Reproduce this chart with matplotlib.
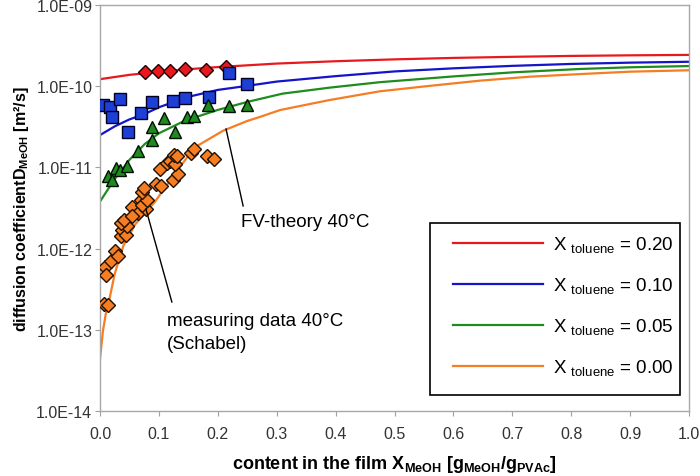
import matplotlib
matplotlib.use("Agg")
import matplotlib.pyplot as plt
from matplotlib.patches import Rectangle

plt.rcParams["font.family"] = ["Liberation Sans", "DejaVu Sans"]
plt.rcParams["mathtext.fontset"] = "custom"
plt.rcParams["mathtext.rm"] = "Liberation Sans"
plt.rcParams["mathtext.bf"] = "Liberation Sans:bold"

# FV-theory curves
x_red = [0.0, 0.05, 0.1, 0.15, 0.2, 0.3, 0.4, 0.5, 0.6, 0.7, 0.8, 0.9, 1.0]
d_red = [1.22e-10, 1.38e-10, 1.50e-10, 1.62e-10, 1.72e-10, 1.90e-10, 2.03e-10,
         2.14e-10, 2.23e-10, 2.30e-10, 2.36e-10, 2.40e-10, 2.43e-10]

x_blue = [0.0, 0.025, 0.05, 0.076, 0.1, 0.15, 0.2, 0.25, 0.3, 0.4, 0.5, 0.6, 0.7, 0.8, 0.9, 1.0]
d_blue = [2.5e-11, 3.2e-11, 3.9e-11, 4.55e-11, 5.5e-11, 7.4e-11, 9.0e-11, 1.01e-10, 1.14e-10,
          1.33e-10, 1.52e-10, 1.66e-10, 1.78e-10, 1.88e-10, 1.95e-10, 2.0e-10]

x_green = [0.0, 0.025, 0.05, 0.076, 0.1, 0.144, 0.2, 0.25, 0.31, 0.39, 0.475, 0.6, 0.7, 0.815, 0.9, 1.0]
d_green = [3.8e-12, 7.2e-12, 1.24e-11, 1.94e-11, 2.63e-11, 3.76e-11, 5.1e-11, 6.4e-11, 8.1e-11,
           9.6e-11, 1.12e-10, 1.32e-10, 1.48e-10, 1.63e-10, 1.71e-10, 1.77e-10]

x_orange = [0.0, 0.005, 0.01, 0.015, 0.025, 0.04, 0.06, 0.093, 0.127, 0.16, 0.209, 0.25, 0.266,
            0.306, 0.39, 0.475, 0.56, 0.645, 0.73, 0.815, 0.9, 1.0]
d_orange = [4.4e-14, 9.7e-14, 1.6e-13, 2.2e-13, 4.9e-13, 1.1e-12, 2.0e-12, 3.75e-12, 8.3e-12,
            1.75e-11, 2.83e-11, 3.73e-11, 4.06e-11, 5.09e-11, 6.76e-11, 8.65e-11, 1.01e-10,
            1.17e-10, 1.31e-10, 1.41e-10, 1.51e-10, 1.57e-10]

# measuring data 40 C (Schabel)
x_red_pts = [0.076, 0.099, 0.119, 0.144, 0.180, 0.214]
d_red_pts = [1.48e-10, 1.55e-10, 1.52e-10, 1.61e-10, 1.60e-10, 1.71e-10]

x_blue_pts = [0.0056, 0.017, 0.0212, 0.034, 0.048, 0.069, 0.088, 0.124, 0.144, 0.185, 0.219, 0.249]
d_blue_pts = [5.92e-11, 5.50e-11, 4.12e-11, 6.96e-11, 2.73e-11, 4.68e-11, 6.30e-11, 6.57e-11,
              7.16e-11, 7.30e-11, 1.47e-10, 1.05e-10]

x_green_pts = [0.014, 0.020, 0.028, 0.034, 0.045, 0.064, 0.088, 0.088, 0.108, 0.128, 0.148,
               0.159, 0.184, 0.219, 0.249]
d_green_pts = [7.84e-12, 6.90e-12, 9.7e-12, 9.29e-12, 1.05e-11, 1.61e-11, 2.17e-11, 3.15e-11,
               4.11e-11, 2.71e-11, 4.23e-11, 4.26e-11, 5.87e-11, 5.70e-11, 5.82e-11]

x_orange_pts = [0.006, 0.014, 0.008, 0.011, 0.019, 0.025, 0.030, 0.035, 0.037, 0.044, 0.045,
                0.036, 0.041, 0.055, 0.064, 0.054, 0.078, 0.070, 0.071, 0.080, 0.072, 0.074,
                0.095, 0.103, 0.124, 0.133, 0.102, 0.113, 0.119, 0.127, 0.126, 0.131, 0.155,
                0.160, 0.181, 0.193]
d_orange_pts = [2.08e-13, 2.02e-13, 5.93e-13, 4.73e-13, 7.03e-13, 9.34e-13, 8.0e-13, 1.43e-12,
                1.69e-12, 1.47e-12, 1.90e-12, 2.04e-12, 2.23e-12, 3.23e-12, 2.71e-12, 2.49e-12,
                3.10e-12, 3.95e-12, 3.44e-12, 3.97e-12, 4.93e-12, 5.61e-12, 6.25e-12, 5.90e-12,
                6.95e-12, 8.3e-12, 9.64e-12, 1.12e-11, 1.20e-11, 1.10e-11, 1.43e-11, 1.37e-11,
                1.52e-11, 1.69e-11, 1.38e-11, 1.28e-11]

legend_labels = [r"X $_{\mathrm{toluene}}$ = 0.20", r"X $_{\mathrm{toluene}}$ = 0.10",
                 r"X $_{\mathrm{toluene}}$ = 0.05", r"X $_{\mathrm{toluene}}$ = 0.00"]
y_ticks = [1e-14, 1e-13, 1e-12, 1e-11, 1e-10, 1e-9]
y_tick_labels = ["1.0E-14", "1.0E-13", "1.0E-12", "1.0E-11", "1.0E-10", "1.0E-09"]
x_ticks = [i / 10 for i in range(11)]

c_red, c_blue, c_green, c_orange = "#e8191e", "#1414c8", "#1e8c1e", "#f57d23"

W, H = 700, 477
fig = plt.figure(figsize=(W / 100, H / 100), dpi=100)
ax = fig.add_axes([100 / W, 1 - 412 / H, 589 / W, 406 / H])

ax.plot(x_red, d_red, color=c_red, lw=1.6, label=legend_labels[0], zorder=2)
ax.plot(x_blue, d_blue, color=c_blue, lw=1.6, label=legend_labels[1], zorder=2)
ax.plot(x_green, d_green, color=c_green, lw=1.6, label=legend_labels[2], zorder=2)
ax.plot(x_orange, d_orange, color=c_orange, lw=1.6, label=legend_labels[3], zorder=2)

ax.plot(x_red_pts, d_red_pts, "D", ms=7, mfc=c_red, mec="#200000", mew=1.0, zorder=3)
ax.plot(x_blue_pts, d_blue_pts, "s", ms=8, mfc="#1d3fd6", mec="#000020", mew=1.0, zorder=3)
ax.plot(x_green_pts, d_green_pts, "^", ms=8.5, mfc="#1f8a1f", mec="#001000", mew=1.0, zorder=3)
ax.plot(x_orange_pts, d_orange_pts, "D", ms=7, mfc=c_orange, mec="#201000", mew=1.0, zorder=3)

ax.set_yscale("log")
ax.set_xlim(0, 1)
ax.set_ylim(1e-14, 1e-9)
ax.set_yticks(y_ticks)
ax.set_yticklabels(y_tick_labels)
ax.yaxis.set_minor_locator(matplotlib.ticker.NullLocator())
ax.set_xticks(x_ticks)
ax.set_xticklabels([f"{v:.1f}" for v in x_ticks])
ax.tick_params(axis="both", direction="out", length=3.5, width=0.8, color="#a0a0a0",
               labelsize=11.5, labelcolor="#333333")
ax.tick_params(axis="x", pad=7.5)
ax.tick_params(axis="y", pad=2)
for side in ax.spines.values():
    side.set_color("#a8a8a8")
    side.set_linewidth(1.0)

ax.set_xlabel(r"content in the film $\mathbf{X_{MeOH}}$ [$\mathbf{g_{MeOH}/g_{PVAc}}$]",
              fontsize=13, fontweight="bold", labelpad=8.5)
ax.set_ylabel(r"diffusion coefficient$\mathbf{D_{MeOH}}$ [m²/s]", fontsize=11.5,
              fontweight="bold", labelpad=4)

# annotations
ax.plot([0.214, 0.243], [2.97e-11, 3.35e-12], color="black", lw=1.0, zorder=4)
ax.text(0.239, 1.9e-12, "FV-theory 40°C", fontsize=13.5, ha="left", va="baseline")
ax.plot([0.078, 0.122], [3.07e-12, 2.2e-13], color="black", lw=1.0, zorder=4)
ax.text(0.114, 1.145e-13, "measuring data 40°C", fontsize=13.5, ha="left", va="baseline")
ax.text(0.114, 6.05e-14, "(Schabel)", fontsize=13.5, ha="left", va="baseline")

leg = ax.legend(loc="upper left", bbox_to_anchor=(453 / W, 1 - 236 / H),
                bbox_transform=fig.transFigure, fontsize=13.5, frameon=False,
                handlelength=4.8, handletextpad=0.55, labelspacing=1.1,
                borderpad=0, borderaxespad=0)
fig.patches.append(Rectangle((430 / W, 1 - 396 / H), 250 / W, 172 / H,
                             transform=fig.transFigure, fill=False,
                             edgecolor="black", lw=1.2, zorder=5))

fig.savefig("out.png", dpi=100)
